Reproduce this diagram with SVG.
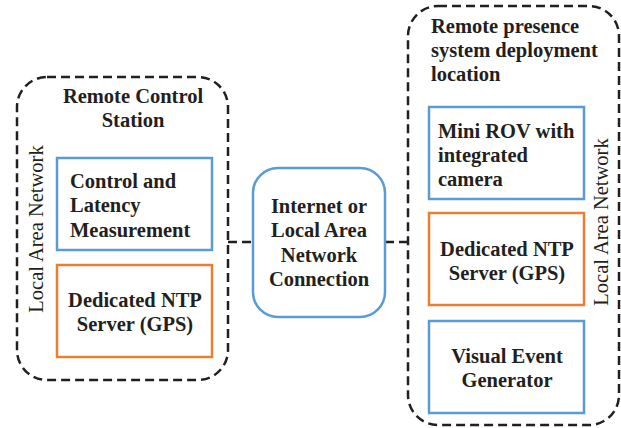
<svg xmlns="http://www.w3.org/2000/svg" width="621" height="428" viewBox="0 0 621 428">
  <style>
    .zone { fill: none; stroke: #231f20; stroke-width: 2.5; stroke-dasharray: 9 5; }
    .link { fill: none; stroke: #231f20; stroke-width: 2.5; stroke-dasharray: 9 5; }
    .blue { fill: #ffffff; stroke: #5b9bd5; stroke-width: 2.5; }
    .orange { fill: #ffffff; stroke: #ed7d31; stroke-width: 2.5; }
    .lbl { font-family: "Liberation Serif", "Times New Roman", serif; font-weight: bold; font-size: 20.5px; fill: #231f20; }
    .mid { text-anchor: middle; }
    .lan { font-family: "Liberation Serif", "Times New Roman", serif; font-size: 20.5px; fill: #231f20; text-anchor: middle; }
  </style>
  <rect width="621" height="428" fill="#ffffff"/>

  <!-- connectors -->
  <g id="connectors">
    <line class="link" x1="228" y1="242" x2="253" y2="242"/>
    <line class="link" x1="385" y1="242" x2="408" y2="242"/>
  </g>

  <!-- left site -->
  <g id="remote-control-station">
    <rect class="zone" x="17" y="77" width="211" height="303" rx="30"/>
    <text class="lbl mid" x="133" y="103">Remote Control</text>
    <text class="lbl mid" x="133" y="127">Station</text>
    <text class="lan" transform="translate(43,229) rotate(-90)">Local Area Network</text>
  </g>
  <g id="control-latency">
    <rect class="blue" x="57" y="158" width="155" height="92"/>
    <text class="lbl" x="70" y="188">Control and</text>
    <text class="lbl" x="70" y="212">Latency</text>
    <text class="lbl" x="70" y="237">Measurement</text>
  </g>
  <g id="ntp-left">
    <rect class="orange" x="57" y="265" width="155" height="92"/>
    <text class="lbl mid" x="135" y="307">Dedicated NTP</text>
    <text class="lbl mid" x="135" y="331">Server (GPS)</text>
  </g>

  <!-- network link -->
  <g id="network">
    <rect class="blue" x="253" y="168" width="132" height="149" rx="25"/>
    <text class="lbl mid" x="319" y="213">Internet or</text>
    <text class="lbl mid" x="319" y="237">Local Area</text>
    <text class="lbl mid" x="319" y="262">Network</text>
    <text class="lbl mid" x="319" y="286">Connection</text>
  </g>

  <!-- right site -->
  <g id="deployment-location">
    <rect class="zone" x="408" y="6" width="211" height="419" rx="30"/>
    <text class="lbl" x="431" y="33">Remote presence</text>
    <text class="lbl" x="431" y="57">system deployment</text>
    <text class="lbl" x="431" y="81">location</text>
    <text class="lan" transform="translate(608,222) rotate(-90)">Local Area Network</text>
  </g>
  <g id="mini-rov">
    <rect class="blue" x="429" y="107" width="155" height="92"/>
    <text class="lbl" x="438" y="138">Mini ROV with</text>
    <text class="lbl" x="438" y="162">integrated</text>
    <text class="lbl" x="438" y="186">camera</text>
  </g>
  <g id="ntp-right">
    <rect class="orange" x="429" y="213" width="155" height="92"/>
    <text class="lbl mid" x="507" y="256">Dedicated NTP</text>
    <text class="lbl mid" x="507" y="280">Server (GPS)</text>
  </g>
  <g id="visual-event">
    <rect class="blue" x="429" y="321" width="155" height="92"/>
    <text class="lbl mid" x="507" y="363">Visual Event</text>
    <text class="lbl mid" x="507" y="387">Generator</text>
  </g>
</svg>
